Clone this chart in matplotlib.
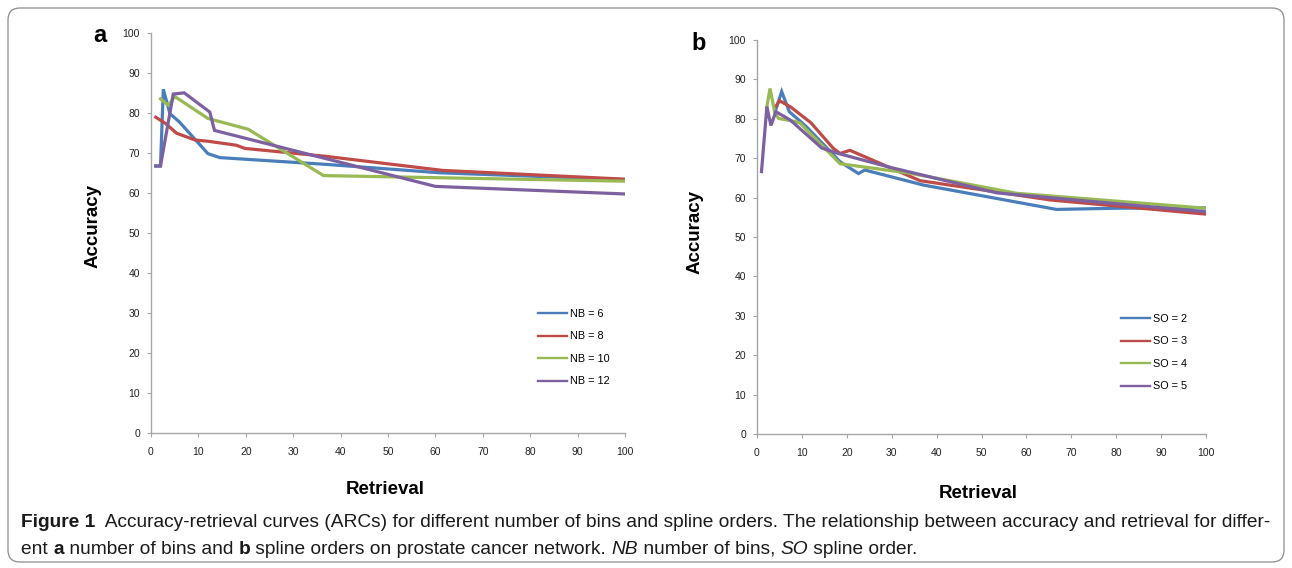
import matplotlib
matplotlib.use("Agg")
import matplotlib.pyplot as plt
from matplotlib.patches import FancyBboxPatch
from matplotlib.transforms import IdentityTransform
from matplotlib import font_manager

# ---------------- data ----------------
ticks = [0, 10, 20, 30, 40, 50, 60, 70, 80, 90, 100]

# panel a: number of bins
labels_a = ["NB = 6", "NB = 8", "NB = 10", "NB = 12"]
nb6_x = [1, 2, 2.6, 4, 6, 12, 14.5, 37, 61, 100]
nb6_y = [66.8, 66.8, 86.0, 79.9, 77.8, 69.9, 68.9, 67.2, 65.1, 63.4]
nb8_x = [1, 3, 5.4, 9.3, 12, 18, 19.8, 37, 61.5, 100]
nb8_y = [79.0, 77.5, 75.0, 73.3, 73.0, 72.0, 71.2, 69.2, 65.7, 63.5]
nb10_x = [2, 3.7, 5, 12, 20.5, 36.4, 100]
nb10_y = [83.6, 82.0, 84.2, 78.7, 76.0, 64.4, 63.0]
nb12_x = [1, 2, 4.7, 7, 12.4, 13.4, 60, 100]
nb12_y = [66.8, 66.8, 84.8, 85.1, 80.3, 75.7, 61.7, 59.8]

# panel b: spline orders
labels_b = ["SO = 2", "SO = 3", "SO = 4", "SO = 5"]
so2_x = [4, 5.5, 7.2, 11, 18.5, 22.6, 24, 37, 66.7, 80, 100]
so2_y = [81.7, 86.9, 81.8, 78.0, 69.1, 66.1, 67.0, 63.2, 57.0, 57.3, 57.4]
so3_x = [4.3, 5, 7.5, 12, 17, 18.5, 20.7, 36.3, 65.3, 100]
so3_y = [83.3, 84.6, 83.0, 79.0, 72.5, 71.2, 72.0, 64.3, 59.4, 55.8]
so4_x = [2.2, 2.9, 4, 4.8, 8.5, 9.6, 18.5, 34, 57.8, 100]
so4_y = [83.1, 87.7, 81.4, 80.1, 79.3, 78.9, 68.6, 66.2, 61.1, 57.3]
so5_x = [1, 2.2, 3.1, 4.2, 7.4, 14.4, 18.1, 29.6, 53.4, 100]
so5_y = [66.6, 83.1, 78.3, 81.8, 79.7, 72.6, 71.2, 67.7, 61.2, 56.4]

colors = ["#4A7EBB", "#BE4B48", "#98B954", "#7D60A0"]

# ---------------- figure ----------------
W, H = 1292, 568
fig = plt.figure(figsize=(W / 100, H / 100), dpi=100)

names = {f.name for f in font_manager.fontManager.ttflist}
narrow = "Liberation Sans Narrow" if "Liberation Sans Narrow" in names else "Liberation Sans"

def px_axes(l, r, t, b):
    return fig.add_axes([l / W, (H - b) / H, (r - l) / W, (b - t) / H])

ax_a = px_axes(151, 625, 33.3, 433)
ax_b = px_axes(757, 1206, 40, 434)

series_a = [(nb6_x, nb6_y), (nb8_x, nb8_y), (nb10_x, nb10_y), (nb12_x, nb12_y)]
series_b = [(so2_x, so2_y), (so3_x, so3_y), (so4_x, so4_y), (so5_x, so5_y)]

def style(ax, series, labels, leg_anchor):
    for (x, y), c, lab in zip(series, colors, labels):
        ax.plot(x, y, color=c, lw=2.3, label=lab, solid_joinstyle="miter")
    ax.set_xlim(0, 100)
    ax.set_ylim(0, 100)
    ax.set_xticks(ticks)
    ax.set_yticks(ticks)
    for s in ["top", "right"]:
        ax.spines[s].set_visible(False)
    for s in ["left", "bottom"]:
        ax.spines[s].set_color("#A6A6A6")
        ax.spines[s].set_linewidth(1.0)
    ax.tick_params(direction="out", length=3, width=0.8, color="#A6A6A6",
                   labelsize=7.5, labelcolor="#222222", pad=5)
    ax.tick_params(axis="x", pad=7)
    for lab in ax.get_xticklabels() + ax.get_yticklabels():
        lab.set_family("Liberation Sans")
    leg = ax.legend(loc="upper left", bbox_to_anchor=leg_anchor, frameon=False,
                    handlelength=2.7, handletextpad=0.25, labelspacing=1.15,
                    prop={"family": "Liberation Sans", "size": 7.8}, borderpad=0,
                    borderaxespad=0)
    for l in leg.get_lines():
        l.set_linewidth(1.7)

style(ax_a, series_a, labels_a, ((538 - 151) / 474, (433 - 309) / 399.7))
style(ax_b, series_b, labels_b, ((1121 - 757) / 449, (434 - 314) / 394))

lab_font = {"family": "Liberation Sans", "weight": "bold", "size": 13.5}
fig.text(93 / W, 1 - 226 / H, "Accuracy", rotation=90, ha="center", va="center", **lab_font)
fig.text(385 / W, 1 - 489 / H, "Retrieval", ha="center", va="center", **lab_font)
fig.text(695 / W, 1 - 232 / H, "Accuracy", rotation=90, ha="center", va="center", **lab_font)
fig.text(978 / W, 1 - 493 / H, "Retrieval", ha="center", va="center", **lab_font)

fig.text(100 / W, 1 - 35 / H, "a", ha="center", va="center",
         family="Liberation Sans", weight="bold", size=17)
fig.text(699 / W, 1 - 43 / H, "b", ha="center", va="center",
         family="Liberation Sans", weight="bold", size=17)

# border
border = FancyBboxPatch((8, H - 562), 1276, 554, boxstyle="round,pad=0,rounding_size=12",
                        transform=IdentityTransform(), fill=False, ec="#8C8C8C", lw=0.9)
fig.patches.append(border)

# caption
line1 = [("Figure 1", "bold", "normal"),
         ("  Accuracy-retrieval curves (ARCs) for different number of bins and spline orders. "
          "The relationship between accuracy and retrieval for differ-", "normal", "normal")]
line2 = [("ent ", "normal", "normal"), ("a", "bold", "normal"),
         (" number of bins and ", "normal", "normal"), ("b", "bold", "normal"),
         (" spline orders on prostate cancer network. ", "normal", "normal"),
         ("NB", "normal", "italic"), (" number of bins, ", "normal", "normal"),
         ("SO", "normal", "italic"), (" spline order.", "normal", "normal")]

renderer = fig.canvas.get_renderer()

def width_of(s, size, weight, st):
    t = fig.text(0, 0, "|" + s + "|", family=narrow, size=size, weight=weight, style=st)
    w = t.get_window_extent(renderer).width
    t.remove()
    t2 = fig.text(0, 0, "||", family=narrow, size=size, weight=weight, style=st)
    w2 = t2.get_window_extent(renderer).width
    t2.remove()
    return w - w2

# fit first line to its width in the reference
base = 10.0
total = sum(width_of(s, base, w, st) for s, w, st in line1)
size = base * (1275 - 21) / total

def draw_line(pieces, x0, y_base):
    x = x0
    for s, w, st in pieces:
        fig.text(x / W, 1 - y_base / H, s, family=narrow, size=size, weight=w, style=st,
                 ha="left", va="baseline", color="#1a1a1a")
        x += width_of(s, size, w, st)

draw_line(line1, 21, 527)
draw_line(line2, 21, 554)

fig.savefig("out.png", dpi=100)
